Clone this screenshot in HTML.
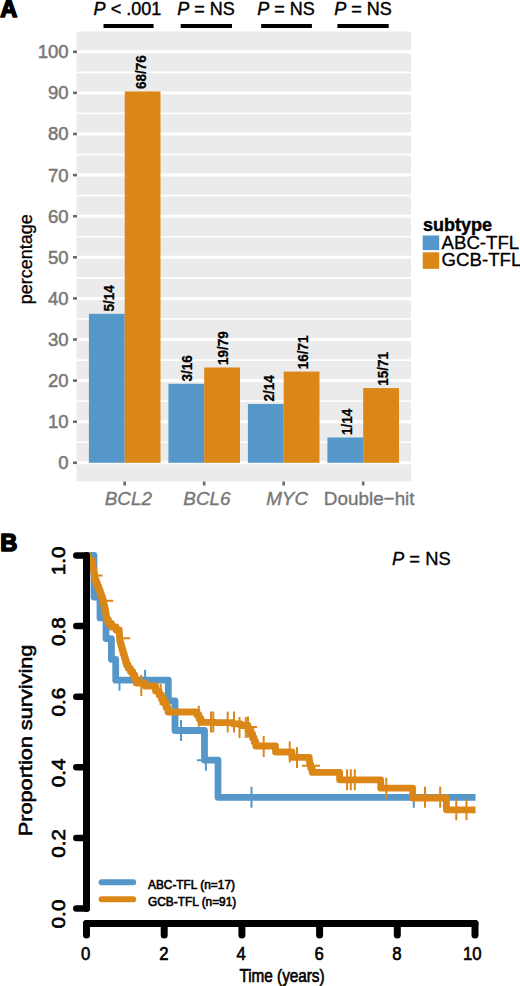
<!DOCTYPE html>
<html><head><meta charset="utf-8"><title>Figure</title>
<style>
html,body{margin:0;padding:0;background:#fff;width:520px;height:986px;overflow:hidden;}
svg{display:block;}
text{font-family:"Liberation Sans",sans-serif;paint-order:stroke;}
</style></head>
<body>
<svg width="520" height="986" viewBox="0 0 520 986">
<rect x="76.6" y="31.5" width="334.4" height="449.9" fill="#EBEBEB"/>
<line x1="76.6" x2="411" y1="442.25" y2="442.25" stroke="#fff" stroke-width="1.7"/>
<line x1="76.6" x2="411" y1="401.15" y2="401.15" stroke="#fff" stroke-width="1.7"/>
<line x1="76.6" x2="411" y1="360.05" y2="360.05" stroke="#fff" stroke-width="1.7"/>
<line x1="76.6" x2="411" y1="318.95" y2="318.95" stroke="#fff" stroke-width="1.7"/>
<line x1="76.6" x2="411" y1="277.85" y2="277.85" stroke="#fff" stroke-width="1.7"/>
<line x1="76.6" x2="411" y1="236.75" y2="236.75" stroke="#fff" stroke-width="1.7"/>
<line x1="76.6" x2="411" y1="195.65" y2="195.65" stroke="#fff" stroke-width="1.7"/>
<line x1="76.6" x2="411" y1="154.55" y2="154.55" stroke="#fff" stroke-width="1.7"/>
<line x1="76.6" x2="411" y1="113.45" y2="113.45" stroke="#fff" stroke-width="1.7"/>
<line x1="76.6" x2="411" y1="72.35" y2="72.35" stroke="#fff" stroke-width="1.7"/>
<line x1="76.6" x2="411" y1="462.80" y2="462.80" stroke="#fff" stroke-width="3.0"/>
<line x1="76.6" x2="411" y1="421.70" y2="421.70" stroke="#fff" stroke-width="3.0"/>
<line x1="76.6" x2="411" y1="380.60" y2="380.60" stroke="#fff" stroke-width="3.0"/>
<line x1="76.6" x2="411" y1="339.50" y2="339.50" stroke="#fff" stroke-width="3.0"/>
<line x1="76.6" x2="411" y1="298.40" y2="298.40" stroke="#fff" stroke-width="3.0"/>
<line x1="76.6" x2="411" y1="257.30" y2="257.30" stroke="#fff" stroke-width="3.0"/>
<line x1="76.6" x2="411" y1="216.20" y2="216.20" stroke="#fff" stroke-width="3.0"/>
<line x1="76.6" x2="411" y1="175.10" y2="175.10" stroke="#fff" stroke-width="3.0"/>
<line x1="76.6" x2="411" y1="134.00" y2="134.00" stroke="#fff" stroke-width="3.0"/>
<line x1="76.6" x2="411" y1="92.90" y2="92.90" stroke="#fff" stroke-width="3.0"/>
<line x1="76.6" x2="411" y1="51.80" y2="51.80" stroke="#fff" stroke-width="3.0"/>
<rect x="88.90" y="313.81" width="35.8" height="148.99" fill="#5697CA"/>
<rect x="124.70" y="91.42" width="35.8" height="371.38" fill="#DB8718"/>
<text transform="translate(113.70,311.41) rotate(-90) scale(1,1.1)" font-size="13.5" font-weight="bold" fill="#000" stroke="#000" stroke-width="0.25">5/14</text>
<text transform="translate(146.45,89.02) rotate(-90) scale(1,1.1)" font-size="13.5" font-weight="bold" fill="#000" stroke="#000" stroke-width="0.25">68/76</text>
<rect x="168.40" y="383.81" width="35.8" height="78.99" fill="#5697CA"/>
<rect x="204.20" y="367.49" width="35.8" height="95.31" fill="#DB8718"/>
<text transform="translate(191.70,381.41) rotate(-90) scale(1,1.1)" font-size="13.5" font-weight="bold" fill="#000" stroke="#000" stroke-width="0.25">3/16</text>
<text transform="translate(228.40,365.09) rotate(-90) scale(1,1.1)" font-size="13.5" font-weight="bold" fill="#000" stroke="#000" stroke-width="0.25">19/79</text>
<rect x="247.90" y="403.99" width="35.8" height="58.81" fill="#5697CA"/>
<rect x="283.70" y="371.60" width="35.8" height="91.20" fill="#DB8718"/>
<text transform="translate(274.00,401.59) rotate(-90) scale(1,1.1)" font-size="13.5" font-weight="bold" fill="#000" stroke="#000" stroke-width="0.25">2/14</text>
<text transform="translate(308.20,369.20) rotate(-90) scale(1,1.1)" font-size="13.5" font-weight="bold" fill="#000" stroke="#000" stroke-width="0.25">16/71</text>
<rect x="327.40" y="437.48" width="35.8" height="25.32" fill="#5697CA"/>
<rect x="363.20" y="388.08" width="35.8" height="74.72" fill="#DB8718"/>
<text transform="translate(351.90,435.08) rotate(-90) scale(1,1.1)" font-size="13.5" font-weight="bold" fill="#000" stroke="#000" stroke-width="0.25">1/14</text>
<text transform="translate(388.30,385.68) rotate(-90) scale(1,1.1)" font-size="13.5" font-weight="bold" fill="#000" stroke="#000" stroke-width="0.25">15/71</text>
<line x1="73" x2="77" y1="462.80" y2="462.80" stroke="#6a6a6a" stroke-width="2.6"/>
<text x="68.6" y="469.20" font-size="18.5" fill="#777777" stroke="#777777" stroke-width="0.5" text-anchor="end">0</text>
<line x1="73" x2="77" y1="421.70" y2="421.70" stroke="#6a6a6a" stroke-width="2.6"/>
<text x="68.6" y="428.10" font-size="18.5" fill="#777777" stroke="#777777" stroke-width="0.5" text-anchor="end">10</text>
<line x1="73" x2="77" y1="380.60" y2="380.60" stroke="#6a6a6a" stroke-width="2.6"/>
<text x="68.6" y="387.00" font-size="18.5" fill="#777777" stroke="#777777" stroke-width="0.5" text-anchor="end">20</text>
<line x1="73" x2="77" y1="339.50" y2="339.50" stroke="#6a6a6a" stroke-width="2.6"/>
<text x="68.6" y="345.90" font-size="18.5" fill="#777777" stroke="#777777" stroke-width="0.5" text-anchor="end">30</text>
<line x1="73" x2="77" y1="298.40" y2="298.40" stroke="#6a6a6a" stroke-width="2.6"/>
<text x="68.6" y="304.80" font-size="18.5" fill="#777777" stroke="#777777" stroke-width="0.5" text-anchor="end">40</text>
<line x1="73" x2="77" y1="257.30" y2="257.30" stroke="#6a6a6a" stroke-width="2.6"/>
<text x="68.6" y="263.70" font-size="18.5" fill="#777777" stroke="#777777" stroke-width="0.5" text-anchor="end">50</text>
<line x1="73" x2="77" y1="216.20" y2="216.20" stroke="#6a6a6a" stroke-width="2.6"/>
<text x="68.6" y="222.60" font-size="18.5" fill="#777777" stroke="#777777" stroke-width="0.5" text-anchor="end">60</text>
<line x1="73" x2="77" y1="175.10" y2="175.10" stroke="#6a6a6a" stroke-width="2.6"/>
<text x="68.6" y="181.50" font-size="18.5" fill="#777777" stroke="#777777" stroke-width="0.5" text-anchor="end">70</text>
<line x1="73" x2="77" y1="134.00" y2="134.00" stroke="#6a6a6a" stroke-width="2.6"/>
<text x="68.6" y="140.40" font-size="18.5" fill="#777777" stroke="#777777" stroke-width="0.5" text-anchor="end">80</text>
<line x1="73" x2="77" y1="92.90" y2="92.90" stroke="#6a6a6a" stroke-width="2.6"/>
<text x="68.6" y="99.30" font-size="18.5" fill="#777777" stroke="#777777" stroke-width="0.5" text-anchor="end">90</text>
<line x1="73" x2="77" y1="51.80" y2="51.80" stroke="#6a6a6a" stroke-width="2.6"/>
<text x="68.6" y="58.20" font-size="18.5" fill="#777777" stroke="#777777" stroke-width="0.5" text-anchor="end">100</text>
<line x1="124.7" x2="124.7" y1="481.5" y2="485.5" stroke="#6a6a6a" stroke-width="2.6"/>
<text transform="translate(128.3,505.4) scale(1.02,1)" font-size="18.5" fill="#777777" stroke="#777777" stroke-width="0.35" text-anchor="middle" font-style="italic">BCL2</text>
<line x1="204.2" x2="204.2" y1="481.5" y2="485.5" stroke="#6a6a6a" stroke-width="2.6"/>
<text transform="translate(206.9,505.4) scale(1.02,1)" font-size="18.5" fill="#777777" stroke="#777777" stroke-width="0.35" text-anchor="middle" font-style="italic">BCL6</text>
<line x1="283.7" x2="283.7" y1="481.5" y2="485.5" stroke="#6a6a6a" stroke-width="2.6"/>
<text transform="translate(287.1,505.4) scale(1.02,1)" font-size="18.5" fill="#777777" stroke="#777777" stroke-width="0.35" text-anchor="middle" font-style="italic">MYC</text>
<line x1="363.2" x2="363.2" y1="481.5" y2="485.5" stroke="#6a6a6a" stroke-width="2.6"/>
<text transform="translate(369.2,505.4) scale(1.02,1)" font-size="18.5" fill="#777777" stroke="#777777" stroke-width="0.35" text-anchor="middle">Double−hit</text>
<text transform="translate(32,259.2) rotate(-90)" font-size="18" text-anchor="middle" fill="#000" stroke="#000" stroke-width="0.3">percentage</text>
<text x="423" y="230.7" font-size="18" font-weight="bold" fill="#000" stroke="#000" stroke-width="0.4">subtype</text>
<rect x="422.7" y="235.5" width="16.5" height="14.6" fill="#5697CA"/>
<rect x="422.7" y="252.3" width="16.5" height="16.5" fill="#DB8718"/>
<text transform="translate(441.5,249) scale(1.015,1)" font-size="18.4" fill="#000" stroke="#000" stroke-width="0.3">ABC-TFL</text>
<text transform="translate(441.5,266) scale(1.015,1)" font-size="18.4" fill="#000" stroke="#000" stroke-width="0.3">GCB-TFL</text>
<text x="127.4" y="15.4" font-size="18" text-anchor="middle" fill="#000" stroke="#000" stroke-width="0.4"><tspan font-style="italic">P</tspan> &lt; .001</text>
<text x="206" y="15.4" font-size="18" text-anchor="middle" fill="#000" stroke="#000" stroke-width="0.4"><tspan font-style="italic">P</tspan> = NS</text>
<text x="286.1" y="15.4" font-size="18" text-anchor="middle" fill="#000" stroke="#000" stroke-width="0.4"><tspan font-style="italic">P</tspan> = NS</text>
<text x="363" y="15.4" font-size="18" text-anchor="middle" fill="#000" stroke="#000" stroke-width="0.4"><tspan font-style="italic">P</tspan> = NS</text>
<rect x="103.5" y="24" width="50.1" height="4" fill="#000"/>
<rect x="180.7" y="24" width="51.3" height="4" fill="#000"/>
<rect x="261.2" y="24" width="50.7" height="4" fill="#000"/>
<rect x="337.4" y="24" width="51.3" height="4" fill="#000"/>
<text x="0.2" y="17.2" font-size="23.6" font-weight="bold" fill="#000" stroke="#000" stroke-width="1.6" stroke-linejoin="round">A</text>
<path d="M86.50,555.40 L94.00,555.40 L94.00,597.10 L100.00,597.10 L100.00,617.90 L106.00,617.90 L106.00,638.60 L111.40,638.60 L111.40,659.40 L115.70,659.40 L115.70,680.20 L168.30,680.20 L168.30,700.90 L175.00,700.90 L175.00,730.50 L204.50,730.50 L204.50,760.20 L218.00,760.20 L218.00,797.30 L475.50,797.30" fill="none" stroke="#5697CA" stroke-width="6.8" stroke-linejoin="round"/>
<path d="M119.5,680.2V690.7M145.1,669.7V680.2M181.0,720.0V741.0M205.9,749.7V770.7M196.9,760.2H205.9M251.5,786.8V807.8M413.8,786.8V807.8" stroke="#5697CA" stroke-width="2" fill="none"/>
<path d="M86.50,555.40 L88.00,555.40 L88.00,559.50 L89.75,559.50 L89.75,560.50 L91.50,560.50 L92.00,560.50 L92.00,565.25 L93.00,565.25 L93.00,570.00 L93.50,570.00 L93.83,570.00 L93.83,573.33 L94.50,573.33 L94.50,576.67 L95.17,576.67 L95.17,580.00 L95.50,580.00 L96.17,580.00 L96.17,583.33 L97.50,583.33 L97.50,586.67 L98.83,586.67 L98.83,590.00 L99.50,590.00 L100.08,590.00 L100.08,593.33 L101.25,593.33 L101.25,596.67 L102.42,596.67 L102.42,600.00 L103.00,600.00 L103.38,600.00 L103.38,603.33 L104.15,603.33 L104.15,606.67 L104.92,606.67 L104.92,610.00 L105.30,610.00 L105.58,610.00 L105.58,613.33 L106.15,613.33 L106.15,616.67 L106.72,616.67 L106.72,620.00 L107.00,620.00 L108.50,620.00 L108.50,623.50 L111.50,623.50 L111.50,627.00 L113.00,627.00 L116.00,627.00 L116.00,630.00 L119.00,630.00 L119.13,630.00 L119.13,633.33 L119.40,633.33 L119.40,636.67 L119.67,636.67 L119.67,640.00 L119.80,640.00 L120.25,640.00 L120.25,643.33 L121.15,643.33 L121.15,646.67 L122.05,646.67 L122.05,650.00 L122.50,650.00 L123.06,650.00 L123.06,653.75 L124.19,653.75 L124.19,657.50 L125.31,657.50 L125.31,661.25 L126.44,661.25 L126.44,665.00 L127.00,665.00 L128.17,665.00 L128.17,668.33 L130.50,668.33 L130.50,671.67 L132.83,671.67 L132.83,675.00 L134.00,675.00 L134.75,675.00 L134.75,679.00 L136.25,679.00 L136.25,683.00 L137.00,683.00 L145.00,683.00 L145.00,686.00 L153.00,686.00 L155.50,686.00 L155.50,691.00 L158.00,691.00 L159.17,691.00 L159.17,695.00 L161.50,695.00 L161.50,699.00 L163.83,699.00 L163.83,703.00 L165.00,703.00 L166.00,703.00 L166.00,707.50 L168.00,707.50 L168.00,712.00 L169.00,712.00 L196.00,712.00 L197.00,712.00 L197.00,715.00 L198.00,715.00 L199.00,715.00 L199.00,718.70 L201.00,718.70 L201.00,722.40 L202.00,722.40 L216.00,722.40 L216.00,722.60 L230.00,722.60 L233.00,722.60 L233.00,723.80 L236.00,723.80 L241.00,723.80 L241.00,725.50 L246.00,725.50 L248.00,725.50 L248.00,730.00 L250.00,730.00 L250.88,730.00 L250.88,734.00 L252.62,734.00 L252.62,738.00 L253.50,738.00 L254.25,738.00 L254.25,742.00 L255.75,742.00 L255.75,746.00 L256.50,746.00 L275.50,746.00 L275.50,752.00 L291.00,752.00 L292.00,752.00 L292.00,757.40 L293.00,757.40 L309.00,757.40 L309.25,757.40 L309.25,760.95 L309.75,760.95 L309.75,764.50 L310.00,764.50 L310.75,764.50 L310.75,768.45 L312.25,768.45 L312.25,772.40 L313.00,772.40 L339.60,772.40 L339.60,779.80 L380.70,779.80 L380.70,788.20 L412.70,788.20 L412.70,798.00 L446.40,798.00 L446.40,809.80 L475.50,809.80" fill="none" stroke="#DB8718" stroke-width="6.8" stroke-linejoin="round"/>
<path d="M93.5,575.5H102.5M104.3,600.8H113.3M121.3,627.8V648.8M121.3,638.3H130.3M141.3,675.0V696.0M160.6,684.0V705.0M198.8,705.7V726.7M211.0,711.5V732.5M213.3,711.5V732.5M227.7,711.5V732.5M234.0,711.5V732.5M239.5,717.0V738.0M245.8,717.0V738.0M248.0,716.5V737.5M248.0,727.0H257.0M263.7,736.0V757.0M289.7,741.5V762.5M297.0,746.9V767.9M302.0,765.8H320.0M347.1,769.3V790.3M350.8,769.3V790.3M354.8,769.3V790.3M386.3,777.7V798.7M425.0,786.8V807.8M440.2,786.8V807.8M456.3,799.3V820.3M466.5,799.3V820.3" stroke="#DB8718" stroke-width="2" fill="none"/>
<line x1="86.5" x2="86.5" y1="555.40" y2="908.50" stroke="#000" stroke-width="7" stroke-linecap="round"/>
<line x1="76.3" x2="86.5" y1="908.50" y2="908.50" stroke="#000" stroke-width="6.5" stroke-linecap="round"/>
<text transform="translate(64.5,914.00) rotate(-90) scale(1.12,1.0)" font-size="18.5" text-anchor="middle" fill="#000" stroke="#000" stroke-width="0.65">0.0</text>
<line x1="76.3" x2="86.5" y1="837.88" y2="837.88" stroke="#000" stroke-width="6.5" stroke-linecap="round"/>
<text transform="translate(64.5,843.38) rotate(-90) scale(1.12,1.0)" font-size="18.5" text-anchor="middle" fill="#000" stroke="#000" stroke-width="0.65">0.2</text>
<line x1="76.3" x2="86.5" y1="767.26" y2="767.26" stroke="#000" stroke-width="6.5" stroke-linecap="round"/>
<text transform="translate(64.5,772.76) rotate(-90) scale(1.12,1.0)" font-size="18.5" text-anchor="middle" fill="#000" stroke="#000" stroke-width="0.65">0.4</text>
<line x1="76.3" x2="86.5" y1="696.64" y2="696.64" stroke="#000" stroke-width="6.5" stroke-linecap="round"/>
<text transform="translate(64.5,702.14) rotate(-90) scale(1.12,1.0)" font-size="18.5" text-anchor="middle" fill="#000" stroke="#000" stroke-width="0.65">0.6</text>
<line x1="76.3" x2="86.5" y1="626.02" y2="626.02" stroke="#000" stroke-width="6.5" stroke-linecap="round"/>
<text transform="translate(64.5,631.52) rotate(-90) scale(1.12,1.0)" font-size="18.5" text-anchor="middle" fill="#000" stroke="#000" stroke-width="0.65">0.8</text>
<line x1="76.3" x2="86.5" y1="555.40" y2="555.40" stroke="#000" stroke-width="6.5" stroke-linecap="round"/>
<text transform="translate(64.5,560.90) rotate(-90) scale(1.12,1.0)" font-size="18.5" text-anchor="middle" fill="#000" stroke="#000" stroke-width="0.65">1.0</text>
<line x1="86.5" x2="475.00" y1="923.4" y2="923.4" stroke="#000" stroke-width="7" stroke-linecap="round"/>
<line x1="86.50" x2="86.50" y1="923.4" y2="935" stroke="#000" stroke-width="7" stroke-linecap="round"/>
<text transform="translate(85.75,959.8) scale(0.88,1)" font-size="19" text-anchor="middle" fill="#000" stroke="#000" stroke-width="0.65">0</text>
<line x1="164.20" x2="164.20" y1="923.4" y2="935" stroke="#000" stroke-width="7" stroke-linecap="round"/>
<text transform="translate(163.90,959.8) scale(0.88,1)" font-size="19" text-anchor="middle" fill="#000" stroke="#000" stroke-width="0.65">2</text>
<line x1="241.90" x2="241.90" y1="923.4" y2="935" stroke="#000" stroke-width="7" stroke-linecap="round"/>
<text transform="translate(241.20,959.8) scale(0.88,1)" font-size="19" text-anchor="middle" fill="#000" stroke="#000" stroke-width="0.65">4</text>
<line x1="319.60" x2="319.60" y1="923.4" y2="935" stroke="#000" stroke-width="7" stroke-linecap="round"/>
<text transform="translate(319.20,959.8) scale(0.88,1)" font-size="19" text-anchor="middle" fill="#000" stroke="#000" stroke-width="0.65">6</text>
<line x1="397.30" x2="397.30" y1="923.4" y2="935" stroke="#000" stroke-width="7" stroke-linecap="round"/>
<text transform="translate(397.00,959.8) scale(0.88,1)" font-size="19" text-anchor="middle" fill="#000" stroke="#000" stroke-width="0.65">8</text>
<line x1="475.00" x2="475.00" y1="923.4" y2="935" stroke="#000" stroke-width="7" stroke-linecap="round"/>
<text transform="translate(472.20,959.8) scale(0.88,1)" font-size="19" text-anchor="middle" fill="#000" stroke="#000" stroke-width="0.65">10</text>
<text transform="translate(282,981.7) scale(0.85,1)" font-size="18" text-anchor="middle" fill="#000" stroke="#000" stroke-width="0.65">Time (years)</text>
<text transform="translate(31.5,740.4) rotate(-90) scale(1,0.85)" font-size="21.7" text-anchor="middle" fill="#000" stroke="#000" stroke-width="0.65">Proportion surviving</text>
<text transform="translate(392,565.4) scale(1.05,1)" font-size="17.5" fill="#000" stroke="#000" stroke-width="0.3"><tspan font-style="italic">P</tspan> = NS</text>
<line x1="101.6" x2="133.2" y1="882.3" y2="882.3" stroke="#5697CA" stroke-width="6" stroke-linecap="round"/>
<line x1="101.6" x2="133.2" y1="899.3" y2="899.3" stroke="#DB8718" stroke-width="6" stroke-linecap="round"/>
<text transform="translate(148,889.3) scale(0.9,1)" font-size="13.2" fill="#000" stroke="#000" stroke-width="0.65">ABC-TFL (n=17)</text>
<text transform="translate(148,905.5) scale(0.9,1)" font-size="13.2" fill="#000" stroke="#000" stroke-width="0.65">GCB-TFL (n=91)</text>
<text x="0.2" y="551.2" font-size="23.6" font-weight="bold" fill="#000" stroke="#000" stroke-width="1.6" stroke-linejoin="round">B</text>
</svg>
</body></html>
